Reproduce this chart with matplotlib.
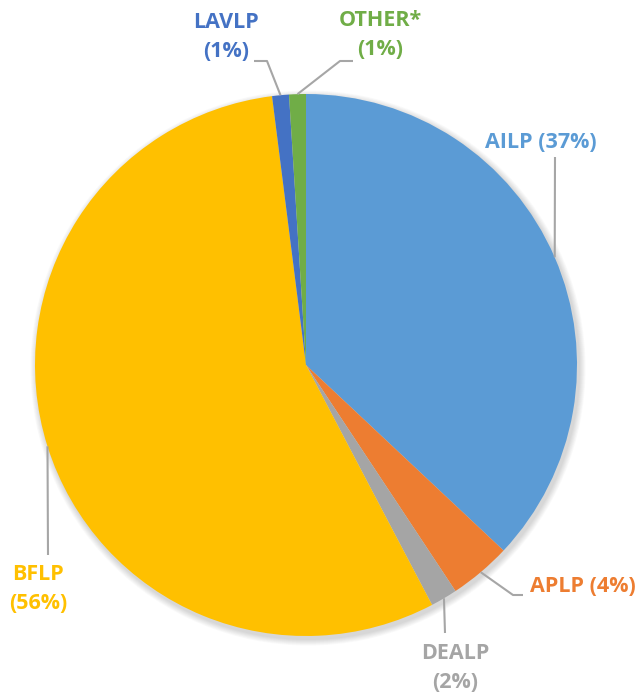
import numpy as np
import matplotlib
matplotlib.use("Agg")
from matplotlib import pyplot as plt

# 数据
labels = ["AILP", "APLP", "DEALP", "BFLP", "LAVLP", "OTHER*"]
shares = [37.0, 3.7, 1.6, 55.7, 1.0, 1.0]
pct_text = ["37%", "4%", "2%", "56%", "1%", "1%"]
colors = ["#5B9BD5", "#ED7D31", "#A5A5A5", "#FFC000", "#4472C4", "#70AD47"]

W, H = 642, 698
plt.rcParams['font.family'] = ['Open Sans', 'DejaVu Sans']

fig = plt.figure(figsize=(W / 100, H / 100), dpi=100)
ax = fig.add_axes([0, 0, 1, 1])


def P(x, y):
    # 像素坐标(左上原点) -> 坐标轴坐标
    return x, H - y


cx, cy = P(306, 365)
R = 271

# 柔和阴影
for k in range(8):
    sh = plt.Circle((cx + 2, cy - 3), R + 1 + k * 0.8, color='black',
                    alpha=0.018, lw=0, zorder=0)
    ax.add_patch(sh)

wedges, _ = ax.pie(shares, colors=colors, startangle=90, counterclock=False,
                   center=(cx, cy), radius=R, frame=True,
                   wedgeprops=dict(linewidth=0))
ax.set_xlim(0, W)
ax.set_ylim(0, H)
ax.set_aspect('equal')
ax.axis('off')

# 标签: (文字位置, 对齐, 折线中间点)
label_cfg = {
    "AILP": dict(text=(541, 142), ha='center', single=True, path=[(555, 157)]),
    "APLP": dict(text=(530, 587), ha='left', single=True, path=[(513, 595), (523, 595)]),
    "DEALP": dict(text=(455, 668), ha='center', single=False, path=[(445, 633)]),
    "BFLP": dict(text=(38, 589), ha='center', single=False, path=[(48, 555)]),
    "LAVLP": dict(text=(226, 37), ha='center', single=False, path=[(267, 61), (254, 61)]),
    "OTHER*": dict(text=(380, 35), ha='center', single=False, path=[(340, 61), (353, 61)]),
}

for w, name, pct, col in zip(wedges, labels, pct_text, colors):
    cfg = label_cfg[name]
    mid = np.deg2rad((w.theta1 + w.theta2) / 2)
    sx, sy = cx + R * np.cos(mid), cy + R * np.sin(mid)
    xs = [sx] + [P(*p)[0] for p in cfg["path"]]
    ys = [sy] + [P(*p)[1] for p in cfg["path"]]
    ax.plot(xs, ys, color='#A6A6A6', lw=1.5, solid_capstyle='butt', zorder=3)
    if cfg["single"]:
        s = f"{name} ({pct})"
    else:
        s = f"{name}\n({pct})"
    tx, ty = P(*cfg["text"])
    ax.text(tx, ty, s, ha=cfg["ha"], va='center', color=col, fontsize=15.5,
            fontweight='bold', linespacing=1.45, multialignment='center')

fig.savefig("out.png", dpi=100)
